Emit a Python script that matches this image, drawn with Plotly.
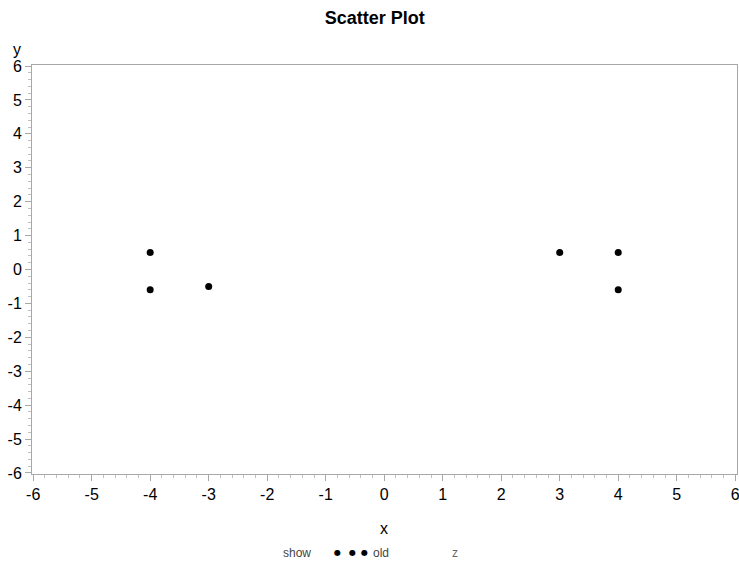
import plotly.graph_objects as go

x_vals = [-4, -4, -3, 3, 4, 4]
y_vals = [0.5, -0.6, -0.5, 0.5, 0.5, -0.6]
tick_vals = list(range(-6, 7))
title_text = "Scatter Plot"
legend_label = "show"
legend_entry = "old"
legend_extra = "z"

fig = go.Figure()
fig.add_trace(go.Scatter(x=x_vals, y=y_vals, mode="markers",
                         marker=dict(color="black", size=7, symbol="circle"),
                         showlegend=False, cliponaxis=False))

axis_common = dict(
    tickmode="array", tickvals=tick_vals,
    ticktext=[str(v) for v in tick_vals],
    showgrid=False, zeroline=False, showline=True, mirror=True,
    linecolor="#a8a8a8", linewidth=1, automargin=False,
    ticklabeloverflow="allow",
    ticks="outside", ticklen=6, tickcolor="#a8a8a8", tickwidth=1,
    minor=dict(ticks="outside", ticklen=3, tickcolor="#c0c0c0", dtick=0.2,
               showgrid=False),
    tickfont=dict(family="Arial, Liberation Sans", size=16, color="black"),
)

fig.update_layout(
    width=739, height=565,
    margin=dict(l=32, r=2, t=65, b=91),
    paper_bgcolor="white", plot_bgcolor="white",
    title=dict(text="<b>" + title_text + "</b>", x=0.507, xanchor="center",
               y=0.968, yanchor="middle",
               font=dict(family="Arial, Liberation Sans", size=18, color="black")),
    xaxis=dict(range=[-6.02, 6.03], **axis_common),
    yaxis=dict(range=[-6.03, 6.03], **axis_common),
    showlegend=False,
)

lab_font = dict(family="Arial, Liberation Sans", size=12, color="#444444")
fig.add_annotation(text="x", xref="paper", yref="paper", x=0.4986, y=-0.134,
                   showarrow=False, yanchor="middle",
                   font=dict(family="Arial, Liberation Sans", size=16, color="black"))
fig.add_annotation(text="y", xref="paper", yref="paper", x=-0.021, y=1.037,
                   xanchor="center", showarrow=False, yanchor="middle",
                   font=dict(family="Arial, Liberation Sans", size=16, color="black"))
fig.add_annotation(text=legend_label, xref="paper", yref="paper", x=0.376, y=-0.193,
                   xanchor="center", showarrow=False, yanchor="middle", font=lab_font)
for px in [0.434, 0.454, 0.472]:
    fig.add_annotation(text="\u25CF", xref="paper", yref="paper", x=px, y=-0.192,
                       xanchor="center", showarrow=False, yanchor="middle",
                       font=dict(family="DejaVu Sans", size=8, color="black"))
fig.add_annotation(text=legend_entry, xref="paper", yref="paper",
                   x=0.481, y=-0.193, xanchor="left", showarrow=False, yanchor="middle",
                   font=lab_font)
fig.add_annotation(text=legend_extra, xref="paper", yref="paper", x=0.600, y=-0.193,
                   xanchor="center", showarrow=False, yanchor="middle",
                   font=dict(family="Arial, Liberation Sans", size=12, color="#666666"))

fig.write_html("out.html", config={"displayModeBar": False},
               post_script="document.body.style.margin='0';document.body.style.padding='0';")
